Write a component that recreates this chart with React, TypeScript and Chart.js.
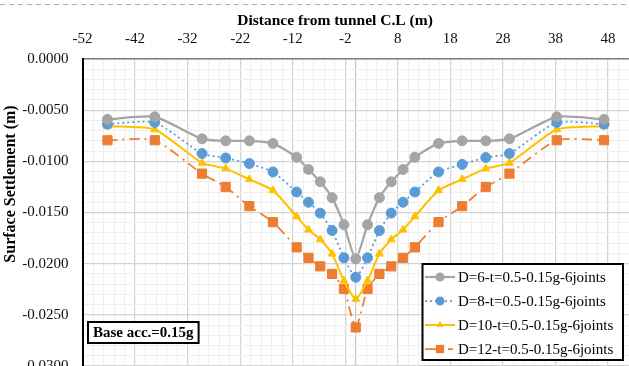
import React, { useEffect, useRef } from 'react';
import { Chart, registerables } from 'chart.js';

Chart.register(...registerables);

// ---------- data ----------
const distances = [
  -47.25, -38.25, -29.25, -24.75, -20.25, -15.75, -11.25, -9, -6.75, -4.5, -2.25, 0,
  2.25, 4.5, 6.75, 9, 11.25, 15.75, 20.25, 24.75, 29.25, 38.25, 47.25,
];

const seriesLabels = [
  'D=6-t=0.5-0.15g-6joints',
  'D=8-t=0.5-0.15g-6joints',
  'D=10-t=0.5-0.15g-6joints',
  'D=12-t=0.5-0.15g-6joints',
];

const settlementD6 = [
  -0.0059, -0.00565, -0.0078, -0.008, -0.008, -0.00825, -0.0096, -0.0108, -0.012, -0.01355, -0.0162, -0.01953,
  -0.0162, -0.01355, -0.012, -0.0108, -0.0096, -0.00825, -0.008, -0.008, -0.0078, -0.00565, -0.0059,
];
const settlementD8 = [
  -0.00637, -0.0062, -0.00924, -0.00967, -0.01022, -0.01104, -0.013, -0.014, -0.01506, -0.01676, -0.01943, -0.02133,
  -0.01943, -0.01676, -0.01506, -0.014, -0.013, -0.01104, -0.0103, -0.00963, -0.00924, -0.0062, -0.00637,
];
const settlementD10 = [
  -0.00657, -0.00689, -0.01016, -0.01071, -0.01176, -0.01284, -0.01539, -0.01669, -0.01764, -0.01904, -0.02166, -0.02345,
  -0.02166, -0.01904, -0.01764, -0.01669, -0.01539, -0.01284, -0.01176, -0.01071, -0.01016, -0.00689, -0.00657,
];
const settlementD12 = [
  -0.00794, -0.00794, -0.0112, -0.01251, -0.01438, -0.01594, -0.0184, -0.01943, -0.02026, -0.021, -0.02247, -0.02623,
  -0.02247, -0.021, -0.02026, -0.01943, -0.0184, -0.01594, -0.01438, -0.01251, -0.0112, -0.00794, -0.00794,
];

const xTickLabels = [-52, -42, -32, -22, -12, -2, 8, 18, 28, 38, 48];
const yTickLabels = [0, -0.005, -0.01, -0.015, -0.02, -0.025, -0.03];

const xTitle = 'Distance from tunnel C.L (m)';
const yTitle = 'Surface Settlement (m)';
const noteText = 'Base acc.=0.15g';

// ---------- styles ----------
const FONT = "'Liberation Serif', 'Times New Roman', serif";
const COLORS = ['#A5A5A5', '#5B9BD5', '#FFC000', '#ED7D31'];
const DASHES: number[][] = [[], [2, 3], [], [10, 5, 2, 5]];
const WIDTHS = [2.25, 1.75, 2, 1.75];
const POINT_STYLES = ['circle', 'circle', 'triangle', 'rect'];
const POINT_RADII = [5, 5, 4.5, 6.5];

const isMajorX = (v: number) => xTickLabels.some((t) => Math.abs(t - v) < 1e-6);
const isMajorY = (v: number) => yTickLabels.some((t) => Math.abs(t - v) < 1e-9);

function drawMarker(ctx: CanvasRenderingContext2D, style: string, x: number, y: number, r: number, color: string) {
  ctx.save();
  ctx.fillStyle = color;
  ctx.strokeStyle = color;
  ctx.setLineDash([]);
  ctx.beginPath();
  if (style === 'circle') {
    ctx.arc(x, y, r, 0, Math.PI * 2);
  } else if (style === 'triangle') {
    ctx.moveTo(x, y - r);
    ctx.lineTo(x + r * 0.866, y + r * 0.5);
    ctx.lineTo(x - r * 0.866, y + r * 0.5);
    ctx.closePath();
  } else {
    const s = r * Math.SQRT1_2;
    ctx.rect(x - s, y - s, 2 * s, 2 * s);
  }
  ctx.fill();
  ctx.restore();
}

const overlayPlugin = {
  id: 'overlay',
  afterDraw(chart: any) {
    const ctx: CanvasRenderingContext2D = chart.ctx;
    const area = chart.chartArea;
    ctx.save();

    // dashed line at very top (cropped frame)
    ctx.strokeStyle = '#b0b0b0';
    ctx.lineWidth = 1;
    ctx.setLineDash([5, 4]);
    ctx.beginPath();
    ctx.moveTo(0, 4.5);
    ctx.lineTo(chart.width, 4.5);
    ctx.stroke();
    ctx.setLineDash([]);

    // x axis title
    ctx.fillStyle = '#000';
    ctx.font = `bold 15.5px ${FONT}`;
    ctx.textAlign = 'center';
    ctx.textBaseline = 'middle';
    ctx.fillText(xTitle, 335, 20.5);

    // y axis title
    ctx.save();
    ctx.translate(11, 184);
    ctx.rotate(-Math.PI / 2);
    ctx.fillStyle = '#000';
    ctx.font = `bold 16px ${FONT}`;
    ctx.textAlign = 'center';
    ctx.textBaseline = 'middle';
    ctx.fillText(yTitle, 0, 0);
    ctx.restore();

    // note box
    const nx = area.left + 5.5;
    const ny = 322;
    ctx.font = `bold 15px ${FONT}`;
    const nw = ctx.measureText(noteText).width + 10;
    ctx.fillStyle = '#fff';
    ctx.fillRect(nx, ny, nw, 21);
    ctx.strokeStyle = '#000';
    ctx.lineWidth = 2;
    ctx.strokeRect(nx, ny, nw, 21);
    ctx.fillStyle = '#000';
    ctx.textAlign = 'left';
    ctx.textBaseline = 'middle';
    ctx.fillText(noteText, nx + 5, ny + 11);

    // legend box
    const lx = 422.5;
    const ly = 264;
    const lw = 200.5;
    const lh = 96;
    ctx.fillStyle = '#fff';
    ctx.fillRect(lx, ly, lw, lh);
    ctx.strokeStyle = '#000';
    ctx.lineWidth = 2;
    ctx.strokeRect(lx, ly, lw, lh);
    const rows = [277, 301, 325, 349];
    chart.data.datasets.forEach((ds: any, i: number) => {
      const y = rows[i];
      ctx.save();
      ctx.strokeStyle = COLORS[i];
      ctx.lineWidth = WIDTHS[i];
      if (i === 3) {
        ctx.beginPath();
        ctx.moveTo(425, y);
        ctx.lineTo(437, y);
        ctx.moveTo(448, y);
        ctx.lineTo(453, y);
        ctx.stroke();
      } else {
        ctx.setLineDash(DASHES[i]);
        ctx.beginPath();
        ctx.moveTo(425, y);
        ctx.lineTo(455, y);
        ctx.stroke();
      }
      ctx.restore();
      drawMarker(ctx, POINT_STYLES[i], 440, y, POINT_RADII[i] * 0.9, COLORS[i]);
      ctx.fillStyle = '#000';
      ctx.font = `15px ${FONT}`;
      ctx.textAlign = 'left';
      ctx.textBaseline = 'middle';
      ctx.fillText(ds.label, 458, y + 1);
    });

    ctx.restore();
  },
};

export default function App() {
  const canvasRef = useRef<HTMLCanvasElement | null>(null);

  useEffect(() => {
    if (!canvasRef.current) return;
    const seriesValues = [settlementD6, settlementD8, settlementD10, settlementD12];
    const chart = new Chart(canvasRef.current, {
      type: 'line',
      data: {
        datasets: seriesValues.map((vals, i) => ({
          label: seriesLabels[i],
          data: distances.map((x, j) => ({ x, y: vals[j] })),
          borderColor: COLORS[i],
          backgroundColor: COLORS[i],
          pointBackgroundColor: COLORS[i],
          pointBorderColor: COLORS[i],
          borderWidth: WIDTHS[i],
          borderDash: DASHES[i],
          pointStyle: POINT_STYLES[i] as any,
          pointRadius: POINT_RADII[i],
          pointBorderWidth: 1,
          tension: 0.2,
          fill: false,
        })),
      },
      options: {
        animation: false,
        responsive: false,
        layout: { padding: 0 },
        plugins: {
          legend: { display: false },
          tooltip: { enabled: false },
          title: { display: false },
        },
        scales: {
          x: {
            type: 'linear',
            position: 'top',
            min: -52,
            max: 52,
            afterFit: (scale: any) => {
              scale.height = 59;
            },
            ticks: {
              stepSize: 2,
              autoSkip: false,
              maxRotation: 0,
              padding: 11,
              color: '#111',
              font: { family: FONT, size: 15 },
              callback: (v: any) => (isMajorX(Number(v)) ? String(v) : ''),
            },
            grid: {
              drawTicks: false,
              color: (c: any) => {
                const v = c.tick ? c.tick.value : 0;
                if (Math.abs(v) < 1e-9) return '#c8c8c8';
                return isMajorX(v) ? '#d4d4d4' : '#efefef';
              },
              lineWidth: (c: any) => {
                const v = c.tick ? c.tick.value : 0;
                return isMajorX(v) || Math.abs(v) < 1e-9 ? 1.25 : 1;
              },
            },
            border: { color: '#7f7f7f', width: 1.5 },
            title: { display: false },
          },
          y: {
            type: 'linear',
            min: -0.03,
            max: 0,
            afterFit: (scale: any) => {
              scale.width = 82.5;
            },
            ticks: {
              stepSize: 0.001,
              autoSkip: false,
              padding: 14,
              color: '#111',
              font: { family: FONT, size: 15 },
              callback: (v: any) => {
                const n = Number(v);
                return isMajorY(n) ? (Math.abs(n) < 1e-12 ? '0.0000' : n.toFixed(4)) : '';
              },
            },
            grid: {
              drawTicks: false,
              color: (c: any) => {
                const v = c.tick ? c.tick.value : 0;
                return isMajorY(v) ? '#d4d4d4' : '#efefef';
              },
              lineWidth: (c: any) => {
                const v = c.tick ? c.tick.value : 0;
                return isMajorY(v) ? 1.25 : 1;
              },
            },
            border: { color: '#000', width: 2 },
          },
        },
      },
      plugins: [overlayPlugin],
    });
    return () => chart.destroy();
  }, []);

  return (
    <div
      style={{
        position: 'fixed',
        left: 0,
        top: 0,
        width: 629,
        height: 366,
        overflow: 'hidden',
        background: '#fff',
      }}
    >
      <canvas ref={canvasRef} width={640} height={389} style={{ width: 640, height: 389, display: 'block' }} />
    </div>
  );
}
